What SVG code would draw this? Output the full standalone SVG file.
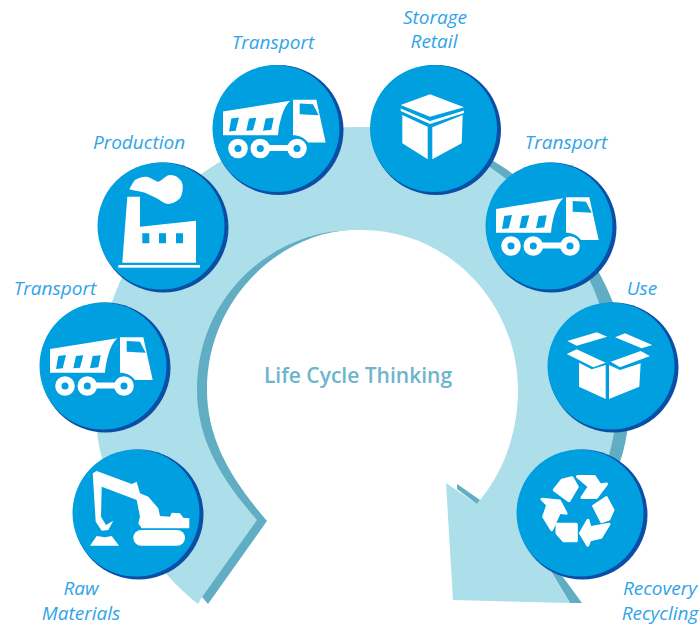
<svg xmlns="http://www.w3.org/2000/svg" xmlns:xlink="http://www.w3.org/1999/xlink" width="699" height="625" viewBox="0 0 699 625">
<style>
.back{fill:#0a4ea6}.face{fill:#009fe0}.w{fill:#fff}.b{fill:#009fe0}
.r{fill:#fff;stroke:#fff;stroke-width:3;stroke-linejoin:round}
.lab{font-family:"Open Sans","Noto Sans",sans-serif;font-style:italic;font-size:19px;fill:#2fa4e8;text-anchor:middle}
.title{font-family:"Open Sans","Noto Sans",sans-serif;font-weight:600;font-size:21px;fill:#6db5ca;text-anchor:middle}
</style>
<defs>
<circle id="disc" r="65" cx="2.500" cy="1.500" class="back"/>
<g id="truck">
<path class="w" d="M-53 -17L14.300 -27.700C7 -22 3 -5 2 6.700L-53 6.700Z"/>
<path class="b" d="M-44.700 -10L-37 -11L-40.300 2.300L-47 3ZM-27 -10L-19.700 -10.700L-23 1.700L-29.700 2.300ZM-10.300 -10L-2.300 -10.700L-4.700 1.300L-13 2.300Z"/>
<path class="w" d="M17 -28.700L40.300 -28.700L49.700 14L32 14C28 9 23 6.700 17 6.700Z"/>
<path class="b" d="M23.700 -25L37 -24.300L42.700 -13.300L23.700 -14.300Z"/>
<rect class="w" x="-16" y="16.500" width="37" height="6"/>
<circle class="w" cx="-38" cy="20" r="9.800"/><circle class="w" cx="-15.700" cy="20" r="9.800"/><circle class="w" cx="21" cy="20" r="9.800"/>
<circle class="b" cx="-38" cy="20" r="3.500"/><circle class="b" cx="-15.700" cy="20" r="3.500"/><circle class="b" cx="21" cy="20" r="3.500"/>
</g>
</defs>
<rect width="699" height="625" fill="#fff"/>
<g id="connectors">
<path id="stripe-right" fill="#61adc3" d="M450 140C468 146 482 154 495 162C545 192 590 245 612 300C628 345 634 390 627 433C620 480 590 530 560 573L582 603L570 603L552 573L560 480L590 300L480 170Z"/>
<path id="arrow-band" fill="#addfea" d="M198 604C150 566 108 500 98 440C92 395 96 345 112 302C130 250 165 200 207 170C250 140 300 127 360 127C400 127 445 137 487 165C535 197 578 245 598 300C614 345 621 390 614 433C607 475 582 530 552 573L570 603L453 600L446 483L477 504L480 500C505 470 518 430 518 390C518 305 450 230 362 230L350 230C272 233 198 296 198 390C198 440 223 480 258 520L202 597Z"/>
<path id="stripe-left" fill="#61adc3" d="M350 230C278 234 207 300 207 390C207 440 232 480 267 521L208 604L202 597L257 520C222 480 197 440 197 390C197 296 272 232 350 230Z"/>
<path id="stripe-notch" fill="#61adc3" d="M457 484L480 500L477 504L457 489Z"/>
</g>
<g id="node-raw-materials" transform="translate(136 513)">
<use xlink:href="#disc" href="#disc"/><circle class="face" r="63.500"/>
<path class="w" d="M-43.300 -39.700L-39.300 -42L-4.300 -29L0.700 -31.300L4 -19.700L12.300 -16.300L22.300 -4.700L24 3L34 3.700L35.700 -0.300L44 0.300L47.300 4.700L53.300 5.300L53.300 15.300L5.700 15.300L2.300 10.300L4 3.700L0.700 -13L-34.300 -26.300L-35 3.700L-30 12L-22.700 7.700L-27.700 17L-34.300 17.700L-40.300 8.700Z"/>
<rect class="w" x="-2.700" y="17" width="51.700" height="15.700" rx="8"/>
<path class="w" d="M-46 32.700L-39.300 23L-31 24.300L-24.300 23L-17 32.700Z"/>
<text class="lab" x="-55" y="82">Raw</text><text class="lab" x="-55" y="107">Materials</text>
</g>
<g id="node-transport-1" transform="translate(103 366)">
<use xlink:href="#disc" href="#disc"/><circle class="face" r="63.500"/><use xlink:href="#truck" href="#truck"/>
<text class="lab" x="-48" y="-71">Transport</text>
</g>
<g id="node-production" transform="translate(161 226)">
<use xlink:href="#disc" href="#disc"/><circle class="face" r="63.500"/>
<path class="w" d="M-33.700 -29.300L-21 -29.300L-21 0.700L35 -5.300L35 36.700L-38.700 36.700Z"/>
<path class="b" d="M-18.700 7.300H-11.700V17.300H-18.700ZM-2 7.300H5V17.300H-2ZM15 7.300H22V17.300H15Z"/>
<rect class="w" x="-42.700" y="39" width="81.700" height="2.700"/>
<path class="w" d="M-31.700 -36.700C-29 -42 -27 -45 -26 -46C-21 -49 -18 -49.500 -14.300 -49.300C-9 -48 -6 -45 -2.700 -44.300C2 -46 5 -51 9 -51C16 -51 21 -46 21.700 -41C22 -35 21 -31 19 -27.700C15 -24 11 -22 7.300 -22C3 -22 -1 -26 -4.300 -27.700L-16 -33.300C-21 -35 -27 -35 -31.700 -36.700Z"/>
<text class="lab" x="-22" y="-77">Production</text>
</g>
<g id="node-transport-2" transform="translate(276 128.500)">
<use xlink:href="#disc" href="#disc"/><circle class="face" r="63.500"/><use xlink:href="#truck" href="#truck"/>
<text class="lab" x="-3" y="-79.500">Transport</text>
</g>
<g id="node-storage-retail" transform="translate(433.500 128.500)">
<use xlink:href="#disc" href="#disc"/><circle class="face" r="63.500"/>
<path class="w" d="M-32.800 -23.500L-3.500 -34.200L30.500 -21.200L-3.500 -11.800Z"/>
<path class="w" d="M-32.800 -20L-3.500 -7.500L30.500 -18L30.500 -15.500L-3.500 -4.500L-32.800 -17.500Z"/>
<path class="w" d="M-31.200 -13.500L-5.800 -1.800L-5.800 30.800L-31.200 14.800ZM-1.200 -1.200L29.200 -13.500L28.200 14.800L-1.200 30.800Z"/>
<text class="lab" x="1.500" y="-104.500">Storage</text><text class="lab" x="0.500" y="-80.500">Retail</text>
</g>
<g id="node-transport-3" transform="translate(549 226)">
<use xlink:href="#disc" href="#disc"/><circle class="face" r="63.500"/><use xlink:href="#truck" href="#truck"/>
<text class="lab" x="17" y="-77">Transport</text>
</g>
<g id="node-use" transform="translate(611 366)">
<use xlink:href="#disc" href="#disc"/><circle class="face" r="63.500"/>
<path class="w" d="M-43.700 -25L-14.300 -33.700L-3.700 -29.300L-34.300 -20.300ZM4 -28.700L14 -32.700L41.300 -21L30.700 -17.700ZM-44.300 -12L-34.300 -16.700L-5.300 -3.300L-17.700 1.300ZM-0.300 -4.300L29.700 -15L39 -10L9 1.300Z"/>
<path class="w" d="M-32 -3.300L-19.300 3.300L-5.300 -1L-5.300 33L-32 20.700ZM-2 -1L9 4L29.700 -2.700L28.300 20.700L-2 33Z"/>
<text class="lab" x="31" y="-71">Use</text>
</g>
<g id="node-recovery-recycling" transform="translate(580 513)">
<use xlink:href="#disc" href="#disc"/><circle class="face" r="63.500"/>
<path class="r" d="M-2.500 -36.500L14.500 -36.500L20 -28L26.500 -29L16.300 -15.500L2 -15.500L9.300 -26.300Z"/>
<path class="r" d="M-25.700 -23L-18 -32.700L-8 -35.300L-2.700 -26.300L-11 -12.300Z"/>
<path class="r" d="M13.700 -7L26.300 -15.300L33 -3L29 6L21.700 8.700Z"/>
<path class="r" d="M29 11.300L21 24.300L10 26.700L7.700 32.300L0.500 20.300L8 7.300L10 14.700Z"/>
<path class="r" d="M-23 11.300L-3.700 11.300L-3.700 27.700L-16.300 27.700L-23 20.300Z"/>
<path class="r" d="M-38 -13.700L-20.500 -12L-14 0.300L-20.500 -0.700L-28.300 16.700L-36.300 3.700L-32.300 -8Z"/>
<text class="lab" x="80" y="82">Recovery</text><text class="lab" x="80" y="107">Recycling</text>
</g>
<g id="node-centre">
<text class="title" x="358" y="383">Life Cycle Thinking</text>
</g>
</svg>
